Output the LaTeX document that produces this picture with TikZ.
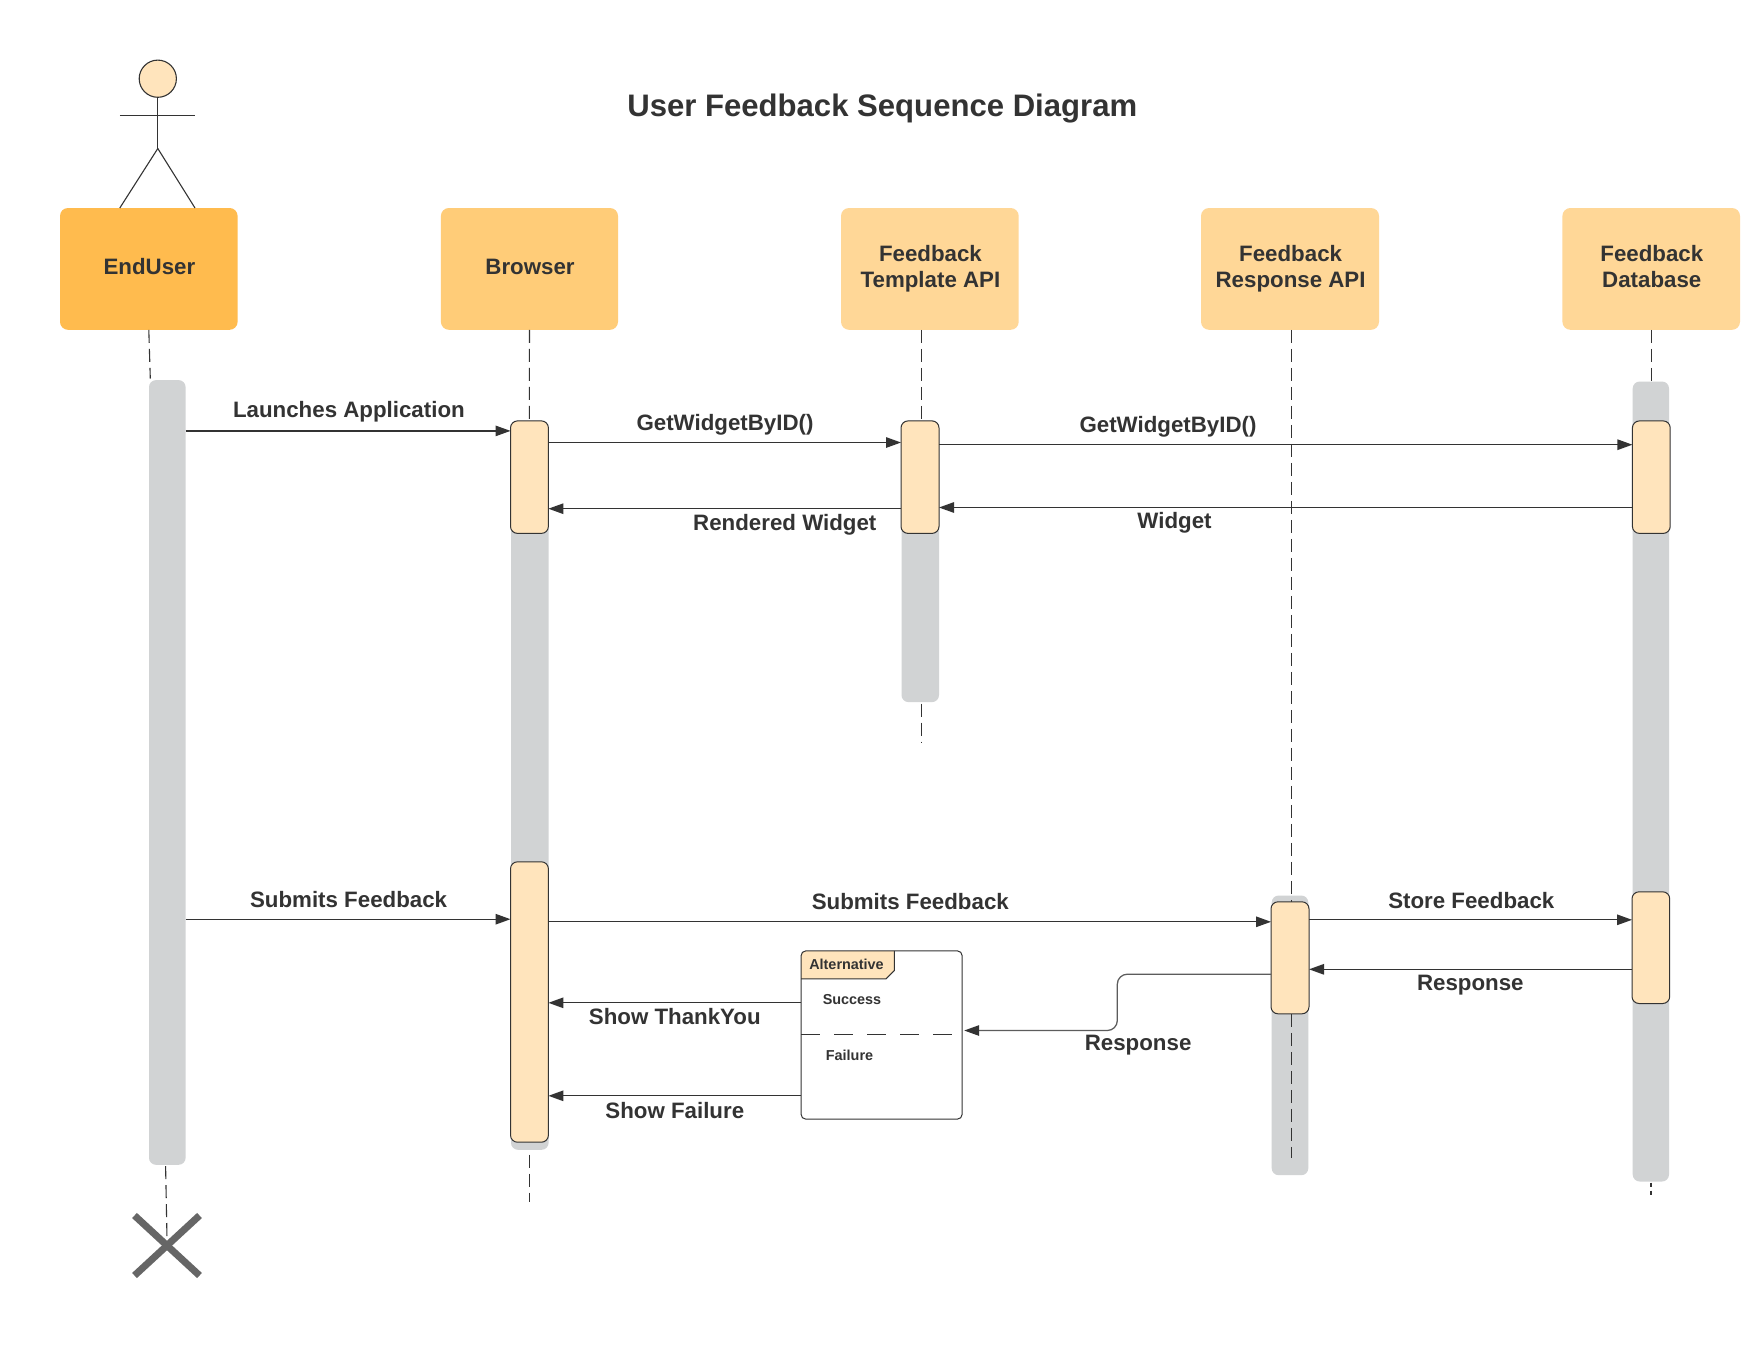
\documentclass[tikz,border=0pt]{standalone}
\usepackage{fontspec}
\setmainfont{Liberation Sans}
\usetikzlibrary{arrows.meta}
\definecolor{ink}{HTML}{333333}
\definecolor{actor}{HTML}{FFBB4E}
\definecolor{brow}{HTML}{FFCC78}
\definecolor{svc}{HTML}{FFD797}
\definecolor{act}{HTML}{FFE4BC}
\definecolor{bar}{HTML}{D1D3D4}
\tikzset{
  base/.style={inner sep=0pt,outer sep=0pt,text=ink,font=\bfseries\fontsize{22.3}{26}\selectfont},
  header/.style={base,rectangle,rounded corners=8pt,align=center},
  grey bar/.style={base,rectangle,rounded corners=7pt,fill=bar},
  activation/.style={base,rectangle,rounded corners=7pt,fill=act,draw=ink,line width=1pt},
  life/.style={draw=ink,line width=1.1pt,dash pattern=on 13pt off 6pt},
  msg/.style={draw=ink,line width=1.25pt,-{Triangle[length=15pt,width=10.5pt]}},
  lbl/.style={base,yshift=-2pt},
  small/.style={base,yshift=-1.4pt,font=\bfseries\fontsize{14.4}{17}\selectfont},
  stick/.style={draw=ink,line width=1.1pt},
}
% name, x0, y0, x1, y1, style, text
\newcommand{\rbox}[7]{%
  \pgfmathsetmacro{\bw}{#4-#2}\pgfmathsetmacro{\bh}{#5-#3}%
  \pgfmathsetmacro{\bx}{(#2+#4)/2}\pgfmathsetmacro{\by}{(#3+#5)/2}%
  \node[#6,minimum width=\bw pt,minimum height=\bh pt] (#1) at (\bx,\by) {#7};}
\newcommand{\htext}[1]{\hspace*{1.2pt}\raisebox{2.4pt}{\begin{tabular}{@{}c@{}}#1\end{tabular}}}
\begin{document}
\begin{tikzpicture}[x=1pt,y=-1pt]
\useasboundingbox[fill=white] (0,-0.5) rectangle (1763,1359.5);

% title
\node[base,font=\bfseries\fontsize{31.1}{36}\selectfont] (title) at (882.3,108) {User Feedback Sequence Diagram};

% actor
\node[circle,draw=ink,fill=act,line width=1.1pt,minimum size=37.2pt,inner sep=0pt,outer sep=0pt] (head) at (157.8,78.2) {};
\coordinate (hip) at (157.8,148);
\coordinate (armL) at (119.8,115.4);
\coordinate (armR) at (195,115.4);

% header boxes
\rbox{hU}{60}{207.5}{237.6}{329.3}{header,fill=actor}{\htext{EndUser}}
\rbox{hB}{440.9}{207.5}{618}{329.3}{header,fill=brow}{\htext{Browser}}
\rbox{hT}{841}{207.5}{1018.7}{329.3}{header,fill=svc}{\htext{Feedback\\Template API}}
\rbox{hR}{1201}{207.5}{1379}{329.3}{header,fill=svc}{\htext{Feedback\\Response API}}
\rbox{hD}{1562.4}{207.5}{1740}{329.3}{header,fill=svc}{\htext{Feedback\\Database}}

\draw[stick] (head.south) -- (hip);
\draw[stick] (armL) -- (armR);
\draw[stick] (hip) -- (armL |- hU.north);
\draw[stick] (hip) -- (armR |- hU.north);

% lifelines drawn under the bars
\coordinate (endB) at (529.4,1201);
\coordinate (endT) at (921.5,742);
\coordinate (endD) at (1651,1195);
\coordinate (endU) at (167,1238);

\rbox{gU}{149}{379.6}{185.6}{1164.3}{grey bar}{}
\rbox{gB}{511}{420}{548.6}{1149.3}{grey bar}{}
\rbox{gT}{901.5}{420}{939}{701.6}{grey bar}{}
\rbox{gR}{1271.7}{895}{1308.3}{1174.7}{grey bar}{}
\rbox{gD}{1632.7}{381}{1669}{1181}{grey bar}{}

\draw[life] (hU.south) -- (150.3,378);
\draw[life] (165.6,1165.5) -- (endU);
\draw[life] (hB.south) -- (529.4,420.4);
\draw[life] (529.4,1154) -- (endB);
\draw[life] (hT.south -| 921.5,0) -- (921.5,420.5);
\draw[life] (921.5,703) -- (endT);
\draw[life] (hR.south -| 1291.3,0) -- (1291.3,1157.7);
\draw[life] (hD.south) -- (gD.north -| hD.south);
\draw[life,dash pattern=on 4pt off 4pt] (1651,1182) -- (endD);

% activations
\rbox{aB1}{510.5}{420.4}{548.4}{532.9}{activation}{}
\rbox{aT1}{901}{420.4}{939}{532.9}{activation}{}
\rbox{aD1}{1632.4}{420.4}{1670.2}{532.9}{activation}{}
\rbox{aB2}{510.5}{861.3}{548.4}{1141.7}{activation}{}
\rbox{aR2}{1271}{901.3}{1309}{1013.3}{activation}{}
\rbox{aD2}{1632}{891.3}{1669.7}{1003}{activation}{}

% alternative frame
\rbox{alt}{801}{950.3}{962.2}{1118.7}{base,rectangle,rounded corners=5pt,fill=white}{}
\fill[act] (801,978.3) -- (801,955.3) arc[start angle=180,end angle=90,radius=5pt] -- (894.4,950.3) -- (894.4,970) -- (886,978.3) -- cycle;
\draw[stick,line width=1pt] (801,978.3) -- (886,978.3) -- (894.4,970) -- (894.4,950.3);
\draw[rounded corners=5pt,draw=ink,line width=1pt] (alt.south west) rectangle (alt.north east);
\draw[draw=ink,line width=1pt,dash pattern=on 19pt off 14pt] (alt.west |- 0,1034.3) -- (951.5,1034.3);
\node[small] (nAlt) at (846.5,962) {Alternative};
\node[small] (nSuc) at (852,998) {Success};
\node[small] (nFai) at (849.5,1053) {Failure};

% messages
\draw[msg] (gU.east |- 0,430.4) -- (aB1.west |- 0,430.4);
\draw[msg] (aB1.east |- 0,442) -- (aT1.west |- 0,442);
\draw[msg] (aT1.west |- 0,508.2) -- (aB1.east |- 0,508.2);
\draw[msg] (aT1.east |- 0,444.2) -- (aD1.west |- 0,444.2);
\draw[msg] (aD1.west |- 0,507) -- (aT1.east |- 0,507);
\draw[msg] (gU.east |- 0,918.7) -- (aB2.west |- 0,918.7);
\draw[msg] (aB2.east |- 0,921.3) -- (aR2.west |- 0,921.3);
\draw[msg] (aR2.east |- 0,919.3) -- (aD2.west |- 0,919.3);
\draw[msg] (aD2.west |- 0,968.8) -- (aR2.east |- 0,968.8);
\draw[msg] (alt.west |- 0,1002.3) -- (aB2.east |- 0,1002.3);
\draw[msg] (alt.west |- 0,1095.3) -- (aB2.east |- 0,1095.3);
\draw[msg,draw=ink!80,rounded corners=10pt,shorten >=2pt,-{Triangle[length=15pt,width=10.5pt,color=ink]}] (aR2.west |- 0,973.7) -- (1117.3,973.7) -- (1117.3,1030) -- (alt.east |- 0,1030);

% message labels
\node[lbl] (l1) at (348.9,409.5) {Launches Application};
\node[lbl] (l2) at (725,422.3) {GetWidgetByID()};
\node[lbl] (l3) at (1168,424.5) {GetWidgetByID()};
\node[lbl] (l4) at (784.8,522.3) {Rendered Widget};
\node[lbl] (l5) at (1174.5,520.1) {Widget};
\node[lbl] (l6) at (348.6,896.8) {Submits Feedback};
\node[lbl] (l7) at (910.3,899.3) {Submits Feedback};
\node[lbl] (l8) at (1471.3,898.3) {Store Feedback};
\node[lbl] (l9) at (1470.3,982.6) {Response};
\node[lbl] (l10) at (674.8,1014.5) {Show ThankYou};
\node[lbl] (l11) at (674.8,1108.2) {Show Failure};
\node[lbl] (l12) at (1138.1,1042.2) {Response};

% destruction mark
\draw[draw=black!60,line width=7pt] (134.5,1215) -- (199.5,1275);
\draw[draw=black!60,line width=7pt] (199.5,1215) -- (134.5,1275);
\end{tikzpicture}
\end{document}
